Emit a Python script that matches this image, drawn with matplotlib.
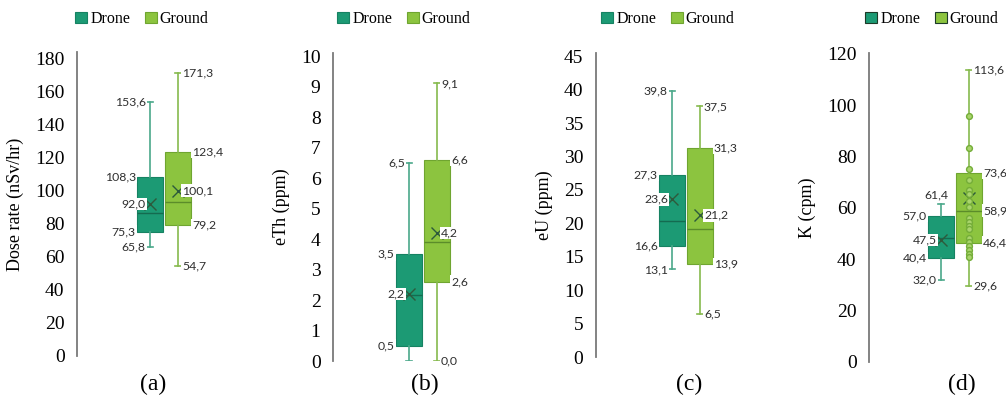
import numpy as np
import matplotlib.pyplot as plt
from matplotlib.patches import Patch

# ===================== data =====================
SERIES = ['Drone', 'Ground']
PANEL_TAGS = ['(a)', '(b)', '(c)', '(d)']
Y_LABELS = ['Dose rate (nSv/hr)', 'eTh (ppm)', 'eU (ppm)', 'K (cpm)']
Y_TICKS = [np.arange(0, 181, 20), np.arange(0, 11, 1), np.arange(0, 46, 5), np.arange(0, 121, 20)]
Y_TOPS = [184, 10.1, 45.5, 120.3]

# whislo, q1, med, mean, q3, whishi
dose_drone = [65.8, 75.3, 86.5, 92.0, 108.3, 153.6]
dose_ground = [54.7, 79.2, 93.5, 100.1, 123.4, 171.3]
eth_drone = [0.0, 0.5, 2.15, 2.2, 3.5, 6.5]
eth_ground = [0.0, 2.6, 3.9, 4.2, 6.6, 9.1]
eu_drone = [13.1, 16.6, 20.3, 23.6, 27.3, 39.8]
eu_ground = [6.5, 13.9, 19.2, 21.2, 31.3, 37.5]
k_drone = [32.0, 40.4, 48.3, 47.5, 57.0, 61.4]
k_ground = [29.6, 46.4, 58.9, 64.0, 73.6, 113.6]
k_ground_points = [95.8, 83.2, 75.0, 70.7, 66.8, 65.3, 62.6, 60.4, 56.1, 54.4,
                   53.0, 51.6, 48.3, 46.6, 45.0, 43.7, 42.2, 41.0]

PANELS = [(dose_drone, dose_ground), (eth_drone, eth_ground),
          (eu_drone, eu_ground), (k_drone, k_ground)]

# which values carry a data label
LABELS = [
    (['whishi', 'q3', 'mean', 'q1', 'whislo'], ['whishi', 'q3', 'mean', 'q1', 'whislo']),
    (['whishi', 'q3', 'mean', 'q1'], ['whishi', 'q3', 'mean', 'q1', 'whislo']),
    (['whishi', 'q3', 'mean', 'q1', 'whislo'], ['whishi', 'q3', 'mean', 'q1', 'whislo']),
    (['whishi', 'q3', 'mean', 'q1', 'whislo'], ['whishi', 'q3', 'med', 'q1', 'whislo']),
]

# ===================== style =====================
FILL = ['#1c9a74', '#8cc43f']
EDGE = ['#168262', '#6fa530']
WHISK = ['#4aa88a', '#86ba4e']
MED = ['#146b50', '#5b8c2a']
MEAN_C = '#2d5a3c'
LBL_C = '#2f2f2f'
SERIF = 'Liberation Serif'
SANS = 'Lato'

W_PX, H_PX = 1006, 398
fig = plt.figure(figsize=(W_PX / 100, H_PX / 100), dpi=100)

# axes layout in pixels: spine x, pixel of y=0, pixel of top, first box centre
LAYOUT = [(77, 356, 52, 150), (333, 361, 53, 409), (596, 357, 53, 672), (869, 362, 53, 941)]
LEG_X = [142, 404, 668, 932]
TAG_X = [153, 425, 689, 962]
AX_W = 170
UNIT = 27.8   # pixels per box slot
BOX_W = 0.92


def to_stats(v, name):
    return dict(whislo=v[0], q1=v[1], med=v[2], mean=v[3], q3=v[4], whishi=v[5],
                fliers=[], label=name)


def fmt(v):
    return f'{v:.1f}'.replace('.', ',')


for i, (drone, ground) in enumerate(PANELS):
    sx, y0, ytop, c1 = LAYOUT[i]
    ax = fig.add_axes([sx / W_PX, 1 - y0 / H_PX, AX_W / W_PX, (y0 - ytop) / H_PX])
    left = 1 - (c1 - sx) / UNIT
    ax.set_xlim(left, left + AX_W / UNIT)
    ax.set_ylim(0, Y_TOPS[i])

    stats = [to_stats(drone, SERIES[0]), to_stats(ground, SERIES[1])]
    for j, st in enumerate(stats):
        ax.bxp([st], positions=[j + 1], widths=BOX_W, patch_artist=True,
               showmeans=True, showfliers=False, capwidths=0.2,
               boxprops=dict(facecolor=FILL[j], edgecolor=EDGE[j], linewidth=0.8),
               whiskerprops=dict(color=WHISK[j], linewidth=1.2),
               capprops=dict(color=WHISK[j], linewidth=1.2),
               medianprops=dict(color=MED[j], linewidth=1.0),
               meanprops=dict(marker='x', markeredgecolor=MEAN_C, markersize=8,
                              markeredgewidth=1.0))

    if i == 3:
        ax.plot(np.full(len(k_ground_points), 2), k_ground_points, 'o', ms=4.2,
                mfc='#a9d46c', mec='#74ad38', mew=1.0, zorder=5)

    # data labels
    for j, st in enumerate(stats):
        side = -1 if j == 0 else 1
        ha = 'right' if j == 0 else 'left'
        for key in LABELS[i][j]:
            val = st[key]
            if key in ('q1', 'q3', 'med'):
                x = j + 1 + side * BOX_W / 2
                dx = side * 1.0
            else:
                x = j + 1
                dx = side * 3.0
            dy = 0
            h = ha
            va = 'center'
            if i == 3 and j == 0 and key == 'whishi':
                h, va, dx, dy = 'center', 'bottom', -3.5, 2.5
            ax.annotate(fmt(val), (x, val), xytext=(dx, dy), textcoords='offset points',
                        ha=h, va=va, fontsize=8.8, color=LBL_C, family=SANS,
                        bbox=dict(facecolor='white', edgecolor='none', pad=0.6),
                        zorder=6)

    # axes cosmetics
    for s in ['top', 'right', 'bottom']:
        ax.spines[s].set_visible(False)
    ax.spines['left'].set_color('#7a7a7a')
    ax.spines['left'].set_linewidth(1.3)
    ax.set_xticks([])
    ax.set_yticks(Y_TICKS[i])
    ax.tick_params(axis='y', length=0, pad=9, labelsize=14)
    for t in ax.get_yticklabels():
        t.set_family(SERIF)
    ax.set_ylabel(Y_LABELS[i], fontsize=13, family=SERIF, labelpad=8)
    ax.patch.set_alpha(0)

    handles = [Patch(facecolor=FILL[k], edgecolor=EDGE[k] if i < 3 else '#1d3b28',
                     linewidth=0.8) for k in range(2)]
    ax.legend(handles, SERIES, loc='center', ncol=2, frameon=False,
              bbox_to_anchor=(LEG_X[i] / W_PX, 1 - 19 / H_PX), bbox_transform=fig.transFigure,
              prop=dict(family=SERIF, size=11.5), handlelength=0.75, handleheight=0.75,
              handletextpad=0.2, columnspacing=0.9)

    fig.text(TAG_X[i] / W_PX, 1 - 384 / H_PX, PANEL_TAGS[i], ha='center', va='center',
             fontsize=17, family=SERIF)

fig.savefig('out.png', dpi=100)
